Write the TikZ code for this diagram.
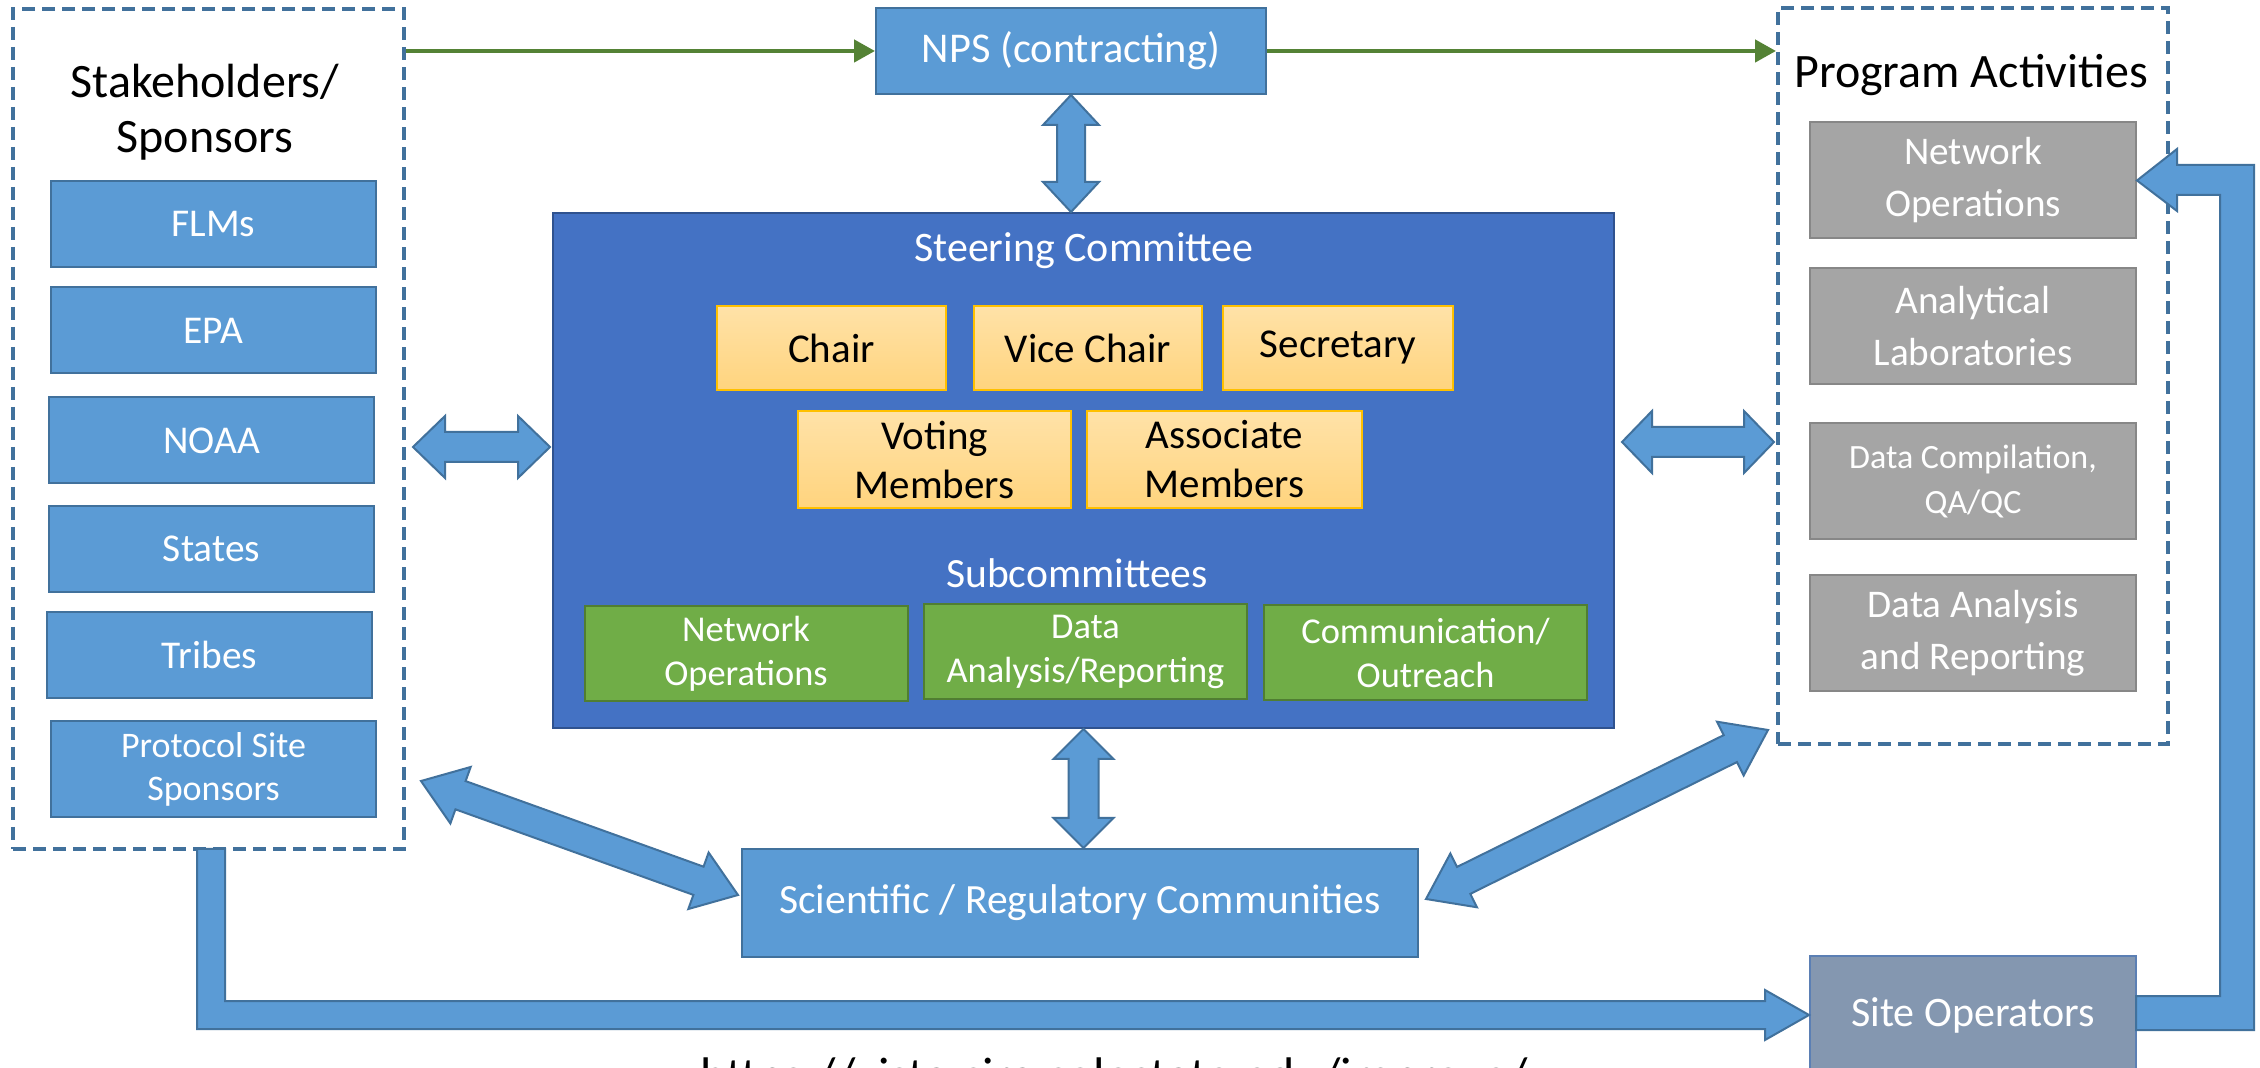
\documentclass[tikz,border=0pt]{standalone}
\usepackage{fontspec}
\setmainfont{Carlito}
\usetikzlibrary{arrows.meta,calc}

\definecolor{skyfill}{HTML}{5B9BD5}
\definecolor{skyline}{HTML}{41719C}
\definecolor{steerfill}{HTML}{4472C4}
\definecolor{steerline}{HTML}{2F528F}
\definecolor{goldtop}{HTML}{FFE2A8}
\definecolor{goldbot}{HTML}{FFD47E}
\definecolor{goldline}{HTML}{FFC000}
\definecolor{leaffill}{HTML}{70AD47}
\definecolor{leafline}{HTML}{507E32}
\definecolor{stonefill}{HTML}{A5A5A5}
\definecolor{stoneline}{HTML}{878787}
\definecolor{slatefill}{HTML}{8497B0}
\definecolor{slateline}{HTML}{5B7FB4}
\definecolor{flowgreen}{HTML}{548235}

% two-headed block arrow: tips #1 and #2, head length #3,
% head half-width #4, shaft half-width #5
\newcommand{\twoway}[5]{%
  \filldraw[blockarrow] (#1)
    -- ($(#1)!#3!(#2)!#4!90:(#2)$)
    -- ($(#1)!#3!(#2)!#5!90:(#2)$)
    -- ($(#2)!#3!(#1)!#5!-90:(#1)$)
    -- ($(#2)!#3!(#1)!#4!-90:(#1)$)
    -- (#2)
    -- ($(#2)!#3!(#1)!#4!90:(#1)$)
    -- ($(#2)!#3!(#1)!#5!90:(#1)$)
    -- ($(#1)!#3!(#2)!#5!-90:(#2)$)
    -- ($(#1)!#3!(#2)!#4!-90:(#2)$)
    -- cycle;}

\begin{document}
\begin{tikzpicture}[
        x=0.5pt, y=-0.5pt,
        box/.style={rectangle, inner sep=0pt, line width=1pt, align=center},
        framebox/.style={rectangle, draw=skyline, line width=2pt,
            dash pattern=on 6.5pt off 3.5pt, inner sep=0pt},
        titletext/.style={align=center, text=black,
            font=\fontsize{24}{27.5}\selectfont},
        sponsorbox/.style={box, fill=skyfill, draw=skyline, text=white,
            minimum width=162.5pt, minimum height=43pt,
            font=\fontsize{19.7}{22}\selectfont},
        chairbox/.style={box, top color=goldtop, bottom color=goldbot,
            draw=goldline, text=black,
            font=\fontsize{20.5}{24.5}\selectfont},
        subbox/.style={box, fill=leaffill, draw=leafline, text=white,
            minimum width=161.5pt, minimum height=47.5pt,
            font=\fontsize{18.2}{22}\selectfont},
        activitybox/.style={box, fill=stonefill, draw=stoneline, text=white,
            minimum width=163pt, minimum height=58pt,
            font=\fontsize{19.6}{26}\selectfont},
        blockarrow/.style={fill=skyfill, draw=skyline, line width=1pt,
            line join=miter},
        flowline/.style={draw=flowgreen, line width=2.25pt,
            -{Triangle[length=10.5pt, width=11pt]}}
    ]

    \useasboundingbox (0,0) rectangle (2260,1068);
    \clip (0,0) rectangle (2260,1068);
    \fill[white] (0,0) rectangle (2260,1068);

    % Dashed groups
    \node[framebox, minimum width=195.5pt, minimum height=420pt] (stakebox) at (208.5,429) {};
    \node[framebox, minimum width=195pt, minimum height=368pt]   (progbox)  at (1973,376) {};
    \node[titletext] (staketitle) at (205,112) {Stakeholders/\\Sponsors};
    \node[titletext, anchor=base] (progtitle) at (1971,88) {Program Activities};

    % Stakeholders
    \node[sponsorbox] (flm)    at (213.5,224)   {FLMs};
    \node[sponsorbox] (epa)    at (213.5,330.5) {EPA};
    \node[sponsorbox] (noaa)   at (211.5,440.5) {NOAA};
    \node[sponsorbox] (states) at (211.5,549)   {States};
    \node[sponsorbox] (tribes) at (209.5,655)   {Tribes};
    \node[sponsorbox, minimum height=48pt, font=\fontsize{18}{21.5}\selectfont]
        (protocol) at (213.5,769) {Protocol Site\\Sponsors};

    % Contracting
    \node[sponsorbox, minimum width=195pt, font=\fontsize{21.2}{23}\selectfont]
        (nps) at (1071,51) {NPS (contracting)};

    % Steering committee
    \node[box, fill=steerfill, draw=steerline, minimum width=530.5pt, minimum height=257.5pt]
        (steer) at (1083.5,470.5) {};
    \node[text=white, font=\fontsize{21}{24}\selectfont] (steertitle) at (1084,251) {Steering Committee};
    \node[chairbox, minimum width=114.5pt, minimum height=42pt] (chair)     at (831.5,348) {Chair};
    \node[chairbox, minimum width=114pt, minimum height=42pt]   (vicechair) at (1088,348)  {Vice Chair};
    \node[chairbox, minimum width=115pt, minimum height=42pt]   (secretary) at (1338,348)  {Secretary};
    \node[chairbox, minimum width=136.5pt, minimum height=48.5pt] (voting)    at (934.5,459.5)  {Voting\\Members};
    \node[chairbox, minimum width=137.5pt, minimum height=48.5pt] (associate) at (1224.5,459.5) {Associate\\Members};
    \node[text=white, font=\fontsize{20.8}{24}\selectfont] (subtitle) at (1077,573) {Subcommittees};
    \node[subbox] (subnet)  at (746,653.5)    {Network\\Operations};
    \node[subbox] (subdata) at (1085.5,651.5) {Data\\Analysis/Reporting};
    \node[subbox] (subcomm) at (1425.5,653)   {Communication/\\Outreach};

    % Program activities
    \node[activitybox] (actnet)  at (1973,180.5) {Network\\Operations};
    \node[activitybox] (actlab)  at (1973,326)   {Analytical\\Laboratories};
    \node[activitybox, font=\fontsize{17}{22.5}\selectfont] (actqa) at (1973,481) {Data Compilation,\\QA/QC};
    \node[activitybox] (actrep)  at (1973,633.5) {Data Analysis\\and Reporting};

    % Communities and operators
    \node[sponsorbox, minimum width=338pt, minimum height=54pt, font=\fontsize{20.8}{23}\selectfont]
        (sci) at (1080,903) {Scientific / Regulatory Communities};
    \node[box, fill=slatefill, draw=slateline, text=white, minimum width=163pt, minimum height=59pt,
        font=\fontsize{21}{23}\selectfont] (site) at (1973,1015) {Site Operators};

    \node[anchor=base, font=\fontsize{25}{30}\selectfont] (url) at (1114,1092)
        {https://vista.cira.colostate.edu/improve/};

    % Contracting flow
    \draw[flowline] (stakebox.east |- nps.west) -- (nps.west);
    \draw[flowline] (nps.east) -- (progbox.west |- nps.east);

    % Exchanges
    \coordinate (lw) at (413,447);
    \coordinate (le) at (550,447);
    \coordinate (rw) at (1622,442);
    \coordinate (re) at (1774,442);
    \coordinate (dl) at (421,781);
    \coordinate (dr) at (1768,730);
    \coordinate (scil) at (738,895);
    \coordinate (scir) at (1426,899);

    \twoway{nps.south}{nps.south |- steer.north}{15pt}{14pt}{7pt}
    \twoway{steer.south}{steer.south |- sci.north}{15pt}{15pt}{7.5pt}
    \twoway{lw}{le}{16pt}{15.5pt}{7.5pt}
    \twoway{rw}{re}{15pt}{15.5pt}{7.5pt}
    \twoway{dl}{scil}{21pt}{15pt}{7.5pt}
    \twoway{scir}{dr}{21pt}{15pt}{7.5pt}

    % Sponsors to site operators, operators to network operations
    \filldraw[blockarrow] (197,849) -- (197,1029) -- (1765,1029) -- (1765,1040)
        -- (site.west) -- (1765,990) -- (1765,1001) -- (225,1001) -- (225,849) -- cycle;
    \filldraw[blockarrow] (2136,996) -- (2220,996) -- (2220,195) -- (2177,195) -- (2177,211)
        -- (actnet.east) -- (2177,149) -- (2177,165) -- (2254,165) -- (2254,1030)
        -- (2136,1030) -- cycle;

\end{tikzpicture}
\end{document}
